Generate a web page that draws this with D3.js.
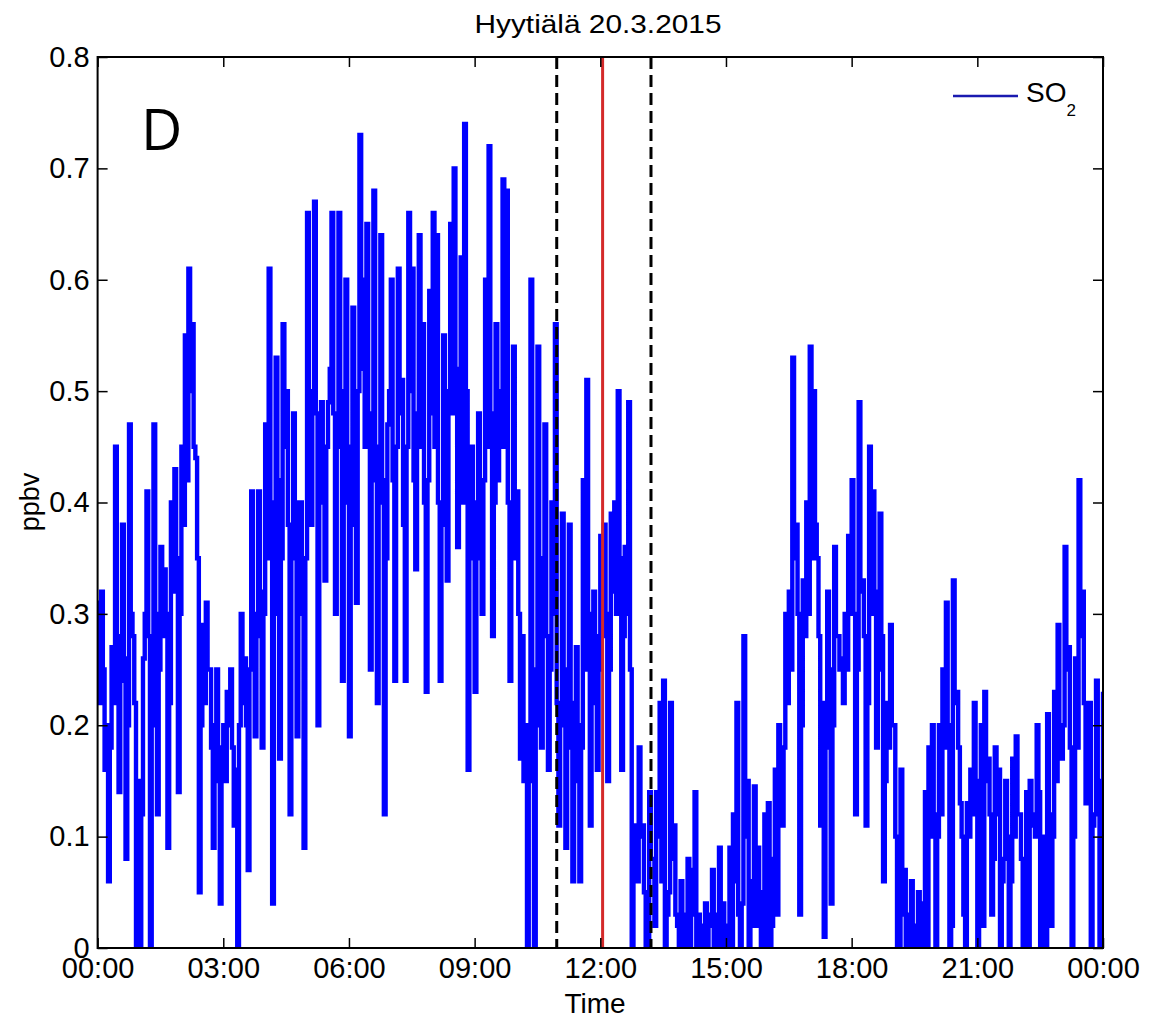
<!DOCTYPE html>
<html><head><meta charset="utf-8">
<script src="https://cdn.jsdelivr.net/npm/d3@7"></script>
<style>
body{margin:0;background:#fff}
text{font-family:"Liberation Sans",Arial,Helvetica,sans-serif;fill:#000}
</style>
</head><body>
<svg id="chart" width="1151" height="1021"></svg>
<script>
// ---------- data ----------
const chartTitle = "Hyytiälä 20.3.2015";
const panelLetter = "D";
const yLabel = "ppbv";
const xLabel = "Time";
const xTickHours = [0, 3, 6, 9, 12, 15, 18, 21, 24];
const xTickLabels = ["00:00","03:00","06:00","09:00","12:00","15:00","18:00","21:00","00:00"];
const yTicks = [0, 0.1, 0.2, 0.3, 0.4, 0.5, 0.6, 0.7, 0.8];
const yTickLabels = ["0","0.1","0.2","0.3","0.4","0.5","0.6","0.7","0.8"];
const stepMinutes = 2.5;
// SO2 (ppbv) read at hh:00, hh:05, ... (extremes of the trace)
const so2Main = [
 0.31,0.32,0.16,0.06,0.27,0.45,0.14,0.38,0.08,0.47,0.28,0.0,
 0.0,0.26,0.41,0.0,0.47,0.12,0.36,0.34,0.09,0.40,0.43,0.14,
 0.45,0.55,0.61,0.56,0.44,0.05,0.29,0.31,0.25,0.09,0.25,0.04,
 0.20,0.23,0.25,0.11,0.0,0.30,0.26,0.07,0.41,0.19,0.41,0.18,
 0.47,0.61,0.04,0.53,0.17,0.56,0.50,0.12,0.48,0.19,0.40,0.09,
 0.66,0.38,0.67,0.20,0.49,0.33,0.49,0.66,0.30,0.66,0.24,0.60,
 0.19,0.575,0.31,0.73,0.60,0.65,0.25,0.68,0.22,0.64,0.12,0.47,
 0.60,0.24,0.61,0.51,0.24,0.66,0.61,0.34,0.64,0.56,0.23,0.59,
 0.66,0.64,0.24,0.55,0.33,0.65,0.70,0.36,0.62,0.74,0.16,0.45,
 0.23,0.48,0.30,0.60,0.72,0.28,0.56,0.45,0.69,0.68,0.24,0.54,
 0.41,0.17,0.15,0.0,0.60,0.0,0.54,0.18,0.47,0.16,0.40,0.56,
 0.11,0.39,0.09,0.38,0.06,0.27,0.06,0.42,0.51,0.11,0.32,0.16,
 0.37,0.38,0.15,0.39,0.40,0.50,0.16,0.36,0.49,0.0,0.11,0.18,
 0.11,0.0,0.14,0.08,0.14,0.22,0.24,0.03,0.22,0.11,0.02,0.06,
 0.0,0.08,0.07,0.14,0.03,0.0,0.04,0.03,0.07,0.0,0.09,0.04,
 0.0,0.09,0.12,0.22,0.0,0.28,0.15,0.02,0.145,0.09,0.0,0.12,
 0.13,0.02,0.16,0.20,0.11,0.30,0.32,0.53,0.38,0.03,0.33,0.40,
 0.54,0.50,0.35,0.11,0.01,0.32,0.04,0.36,0.28,0.26,0.30,0.37,
 0.42,0.12,0.49,0.33,0.11,0.45,0.41,0.18,0.39,0.06,0.22,0.29,
 0.20,0.0,0.16,0.07,0.0,0.06,0.0,0.05,0.0,0.14,0.18,0.20,
 0.0,0.20,0.25,0.31,0.0,0.33,0.23,0.13,0.03,0.13,0.16,0.22,
 0.0,0.20,0.23,0.17,0.03,0.18,0.16,0.06,0.15,0.0,0.17,0.19,
 0.12,0.0,0.14,0.15,0.11,0.20,0.0,0.10,0.21,0.02,0.23,0.29,
 0.17,0.36,0.27,0.0,0.26,0.42,0.32,0.13,0.22,0.11,0.24,0.0,
 0.23
];
// SO2 (ppbv) read at hh:02.5, hh:07.5, ... (core of the trace band)
const so2Mid = [
 0.22,0.25,0.20,0.18,0.22,0.28,0.24,0.26,0.20,0.30,0.22,0.15,
 0.12,0.30,0.28,0.20,0.30,0.25,0.28,0.30,0.22,0.32,0.35,0.30,
 0.38,0.42,0.50,0.45,0.35,0.20,0.22,0.25,0.18,0.20,0.15,0.18,
 0.15,0.20,0.18,0.16,0.20,0.22,0.20,0.25,0.30,0.28,0.32,0.30,
 0.35,0.40,0.30,0.42,0.35,0.45,0.38,0.35,0.40,0.32,0.30,0.35,
 0.45,0.50,0.48,0.40,0.42,0.45,0.52,0.48,0.45,0.50,0.40,0.45,
 0.38,0.45,0.50,0.52,0.45,0.48,0.42,0.45,0.40,0.42,0.35,0.50,
 0.42,0.45,0.48,0.38,0.45,0.50,0.42,0.48,0.45,0.40,0.42,0.48,
 0.45,0.40,0.38,0.45,0.50,0.48,0.52,0.45,0.40,0.50,0.38,0.35,
 0.40,0.35,0.42,0.45,0.48,0.40,0.42,0.50,0.45,0.40,0.38,0.35,
 0.30,0.28,0.20,0.15,0.25,0.20,0.35,0.30,0.28,0.25,0.30,0.22,
 0.20,0.25,0.18,0.22,0.15,0.20,0.18,0.25,0.30,0.22,0.28,0.25,
 0.28,0.30,0.25,0.32,0.30,0.35,0.28,0.30,0.25,0.08,0.06,0.10,
 0.05,0.0,0.08,0.02,0.10,0.06,0.0,0.05,0.08,0.03,0.0,0.03,
 0.02,0.0,0.03,0.0,0.02,0.01,0.0,0.02,0.0,0.03,0.0,0.02,
 0.02,0.0,0.06,0.03,0.04,0.10,0.0,0.06,0.02,0.05,0.03,0.0,
 0.0,0.08,0.03,0.15,0.18,0.22,0.25,0.35,0.30,0.20,0.28,0.30,
 0.35,0.38,0.28,0.22,0.18,0.25,0.20,0.28,0.25,0.22,0.25,0.30,
 0.30,0.25,0.32,0.28,0.22,0.30,0.32,0.25,0.28,0.15,0.18,0.20,
 0.10,0.0,0.03,0.0,0.03,0.0,0.02,0.0,0.04,0.0,0.10,0.12,
 0.10,0.12,0.18,0.20,0.02,0.22,0.18,0.10,0.0,0.10,0.12,0.15,
 0.10,0.02,0.15,0.12,0.08,0.12,0.0,0.08,0.10,0.06,0.10,0.12,
 0.08,0.06,0.0,0.12,0.10,0.14,0.08,0.0,0.12,0.10,0.15,0.18,
 0.20,0.25,0.18,0.10,0.18,0.28,0.22,0.15,0.0,0.12,0.15,0.10
];
const dashedMarkerHours = [10.96, 13.21];
const redMarkerHours = [12.055];
const legendLabel = "SO";
const legendSub = "2";

// table: interleave the two readings into one 2.5-minute series
const series = [];
so2Main.forEach((v, i) => {
  series.push(v);
  if (i < so2Mid.length) series.push(so2Mid[i]);
});

// ---------- layout ----------
const svg = d3.select("#chart");
const L = 97.6, R = 1103, T = 57, B = 948;
const x = d3.scaleLinear().domain([0, 24]).range([L, R]);
const y = d3.scaleLinear().domain([0, 0.8]).range([B, T]);

svg.append("defs").append("clipPath").attr("id","plotclip")
  .append("rect").attr("x",L).attr("y",T).attr("width",R-L).attr("height",B-T);

const line = d3.line()
  .x((d,i) => x(i*stepMinutes/60))
  .y(d => y(d))
  .curve(d3.curveStepAfter);
svg.append("path")
  .datum(series)
  .attr("clip-path","url(#plotclip)")
  .attr("d", line)
  .attr("fill","none")
  .attr("stroke","#0000ff")
  .attr("stroke-width",4.4)
  .attr("stroke-linejoin","miter")
  .attr("stroke-linecap","butt");

// markers
svg.selectAll("line.dash").data(dashedMarkerHours).enter().append("line")
  .attr("x1",d=>x(d)).attr("x2",d=>x(d)).attr("y1",y(0.8)).attr("y2",y(0))
  .attr("stroke","#000").attr("stroke-width",3).attr("stroke-dasharray","12,6");
svg.selectAll("line.red").data(redMarkerHours).enter().append("line")
  .attr("x1",d=>x(d)).attr("x2",d=>x(d)).attr("y1",y(0.8)).attr("y2",y(0))
  .attr("stroke","#d42a2a").attr("stroke-width",3);

// axes
const fs = 29;
function styleAxis(g){
  g.select(".domain").remove();
  g.selectAll(".tick line").attr("stroke","#000").attr("stroke-width",1.5);
  g.selectAll(".tick text").style("font-size",fs+"px").attr("fill","#000");
}
svg.append("g").attr("transform",`translate(0,${B})`)
  .call(d3.axisBottom(x).tickValues(xTickHours).tickFormat((d,i)=>xTickLabels[i]).tickSize(-10).tickPadding(9))
  .call(styleAxis);
svg.append("g").attr("transform",`translate(0,${T})`)
  .call(d3.axisTop(x).tickValues(xTickHours).tickFormat("").tickSize(-10))
  .call(styleAxis);
svg.append("g").attr("transform",`translate(${L},0)`)
  .call(d3.axisLeft(y).tickValues(yTicks).tickFormat((d,i)=>yTickLabels[i]).tickSize(-10).tickPadding(8))
  .call(styleAxis);
svg.append("g").attr("transform",`translate(${R},0)`)
  .call(d3.axisRight(y).tickValues(yTicks).tickFormat("").tickSize(-10))
  .call(styleAxis);

svg.append("rect").attr("x",L).attr("y",T).attr("width",R-L).attr("height",B-T)
  .attr("fill","none").attr("stroke","#000").attr("stroke-width",2);

// title & labels
svg.append("text").attr("x",598).attr("y",33).attr("text-anchor","middle")
  .style("font-size","25px").attr("textLength",247).attr("lengthAdjust","spacingAndGlyphs")
  .text(chartTitle);
svg.append("text").attr("x",595).attr("y",1013).attr("text-anchor","middle")
  .style("font-size","28px").text(xLabel);
svg.append("text").attr("transform","translate(39,502) rotate(-90)").attr("text-anchor","middle")
  .style("font-size","27px").text(yLabel);
svg.append("text").attr("x",141).attr("y",150)
  .style("font-family","'Open Sans','Noto Sans',sans-serif").style("font-size","57px").text(panelLetter);

// legend
svg.append("line").attr("x1",953).attr("x2",1018).attr("y1",96).attr("y2",96)
  .attr("stroke","#1a1ab0").attr("stroke-width",2.5);
const lt = svg.append("text").attr("x",1026).attr("y",102).style("font-size","28px");
lt.append("tspan").text(legendLabel);
lt.append("tspan").attr("dy",14).style("font-size","17px").text(legendSub);
</script>
</body></html>
